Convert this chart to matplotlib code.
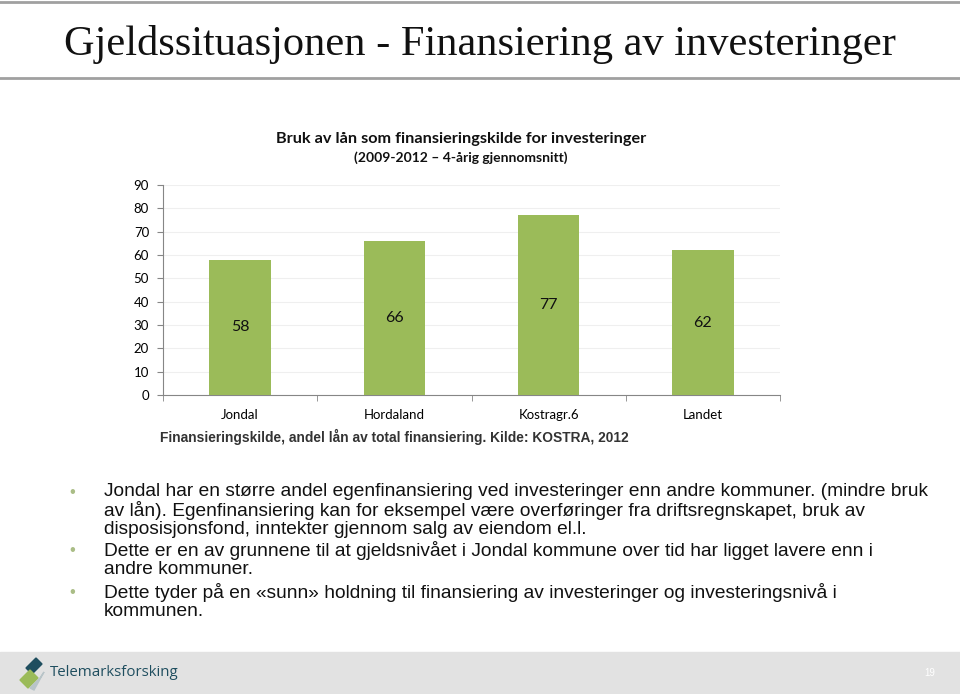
import matplotlib
matplotlib.use("Agg")
from matplotlib import pyplot as plt
from matplotlib.patches import Polygon, Rectangle
from matplotlib.lines import Line2D
import numpy as np

# data
categories = ["Jondal", "Hordaland", "Kostragr.6", "Landet"]
values = [58, 66, 77, 62]
yticks = [0, 10, 20, 30, 40, 50, 60, 70, 80, 90]

slide_title = "Gjeldssituasjonen - Finansiering av investeringer"
chart_title = "Bruk av lån som finansieringskilde for investeringer"
chart_sub = "(2009-2012 \u2013 4-årig gjennomsnitt)"
source = "Finansieringskilde, andel lån av total finansiering. Kilde: KOSTRA, 2012"
bullets = [
    ["Jondal har en større andel egenfinansiering ved investeringer enn andre kommuner. (mindre bruk",
     "av lån). Egenfinansiering kan for eksempel være overføringer fra driftsregnskapet, bruk av",
     "disposisjonsfond, inntekter gjennom salg av eiendom el.l."],
    ["Dette er en av grunnene til at gjeldsnivået i Jondal kommune over tid har ligget lavere enn i",
     "andre kommuner."],
    ["Dette tyder på en «sunn» holdning til finansiering av investeringer og investeringsnivå i",
     "kommunen."],
]

W, H = 960, 694
fig = plt.figure(figsize=(9.6, 6.94), dpi=100)

def fx(px):
    return px / W

def fy(py):
    return 1 - py / H

# slide frame lines
fig.add_artist(Line2D([0, 1], [fy(1.5), fy(1.5)], color="#a0a0a0", lw=2))
fig.add_artist(Line2D([0, 1], [fy(78), fy(78)], color="#a0a0a0", lw=2))
fig.text(fx(480), fy(45), slide_title, ha="center", va="center",
         fontsize=30.5, family="Liberation Serif", color="#111111")

# chart
ax = fig.add_axes([fx(163), fy(395), fx(780 - 163), (395 - 185) / H])
x = np.arange(len(categories))
ax.bar(x, values, width=0.40, color="#9bbb59", zorder=3)
for xi, v in zip(x, values):
    ax.text(xi, v / 2, str(v), ha="center", va="center", fontsize=11.5,
            family="Lato", color="#111111", zorder=4)
ax.set_xlim(-0.5, len(categories) - 0.5)
ax.set_ylim(0, 90)
ax.set_yticks(yticks)
ax.set_yticklabels([str(t) for t in yticks], family="Lato", fontsize=9.5)
ax.set_xticks(x)
ax.set_xticklabels(categories, family="Lato", fontsize=9.5)
ax.set_xticks(np.arange(len(categories) + 1) - 0.5, minor=True)
ax.tick_params(axis="x", which="major", length=0, pad=10)
ax.tick_params(axis="x", which="minor", length=4, color="#868686")
ax.tick_params(axis="y", length=4, color="#868686", pad=6)
ax.yaxis.grid(True, color="#efefef", lw=0.8, zorder=0)
for s in ["top", "right"]:
    ax.spines[s].set_visible(False)
for s in ["left", "bottom"]:
    ax.spines[s].set_color("#868686")
    ax.spines[s].set_linewidth(0.8)

fig.text(fx(461), fy(139), chart_title, ha="center", va="center",
         fontsize=11.7, family="Lato", weight="bold", color="#111111")
fig.text(fx(461), fy(158), chart_sub, ha="center", va="center",
         fontsize=10, family="Lato", weight="bold", color="#111111")
fig.text(fx(160), fy(437), source, ha="left", va="center",
         fontsize=9.9, family="Liberation Sans", weight="bold", color="#333333")

# bullets
line_y = [[492, 511, 530], [551, 570], [593, 612]]
for lines, ys in zip(bullets, line_y):
    fig.text(fx(69), fy(ys[0]), "\u2022", ha="left", va="center", fontsize=12,
             color="#aabd86", family="Liberation Sans")
    for t, yy in zip(lines, ys):
        fig.text(fx(104), fy(yy), t, ha="left", va="center", fontsize=13.8,
                 family="Liberation Sans", color="#111111")

# footer
fig.add_artist(Rectangle((0, 0), 1, fy(652), transform=fig.transFigure,
                         color="#e2e2e2", zorder=0))
fig.add_artist(Polygon([(fx(26), fy(668)), (fx(36), fy(658)), (fx(42), fy(664)), (fx(32), fy(674))],
                       closed=True, transform=fig.transFigure, color="#1f4e5f"))
fig.add_artist(Polygon([(fx(20), fy(680)), (fx(30), fy(670)), (fx(38), fy(678)), (fx(28), fy(688))],
                       closed=True, transform=fig.transFigure, color="#9bbb59"))
fig.add_artist(Polygon([(fx(30), fy(688)), (fx(40), fy(678)), (fx(44), fy(672)), (fx(34), fy(690))],
                       closed=True, transform=fig.transFigure, color="#b8c4c8"))
fig.text(fx(50), fy(673), "Telemarksforsking", ha="left", va="center",
         fontsize=10.8, family="Open Sans", color="#1f4e5f")
fig.text(fx(930), fy(673), "19", ha="center", va="center", fontsize=7,
         family="Liberation Sans", color="white")

fig.savefig("out.png", dpi=100)
